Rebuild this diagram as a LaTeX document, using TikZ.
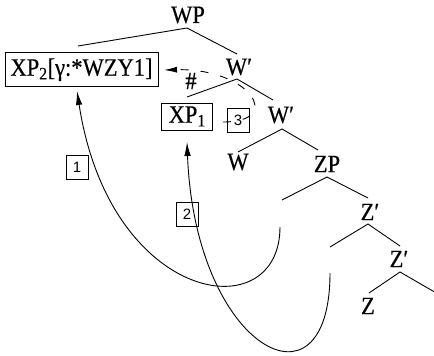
\documentclass[tikz,border=0pt]{standalone}
\usepackage{fontspec}
\setmainfont[FakeStretch=0.9, FakeBold=0.4]{Liberation Serif}
\newfontfamily\labelfont{Liberation Sans}
\usetikzlibrary{arrows.meta}

\begin{document}
\begin{tikzpicture}[x=1pt, y=-1pt,
  cat/.style={inner sep=0pt, font=\fontsize{25}{29}\selectfont},
  boxed/.style={draw, line width=0.7pt, inner sep=0pt, font=\fontsize{25}{29}\selectfont},
  numbox/.style={draw, line width=0.6pt, inner sep=0pt, minimum width=22pt,
    minimum height=24pt, font=\labelfont\fontsize{15}{18}\selectfont},
  branch/.style={line width=0.9pt},
  move/.style={line width=0.9pt, -{Latex[length=14pt,width=6.5pt]}},
  agree/.style={line width=0.9pt, dash pattern=on 8pt off 12pt,
    -{Latex[length=13pt,width=6pt]}},
]
\useasboundingbox (0,0) rectangle (434,356);

% category labels
\node[cat] (WP)  at (188,15)  {WP};
\node[boxed, minimum width=153pt, minimum height=34pt] (XP2) at (81.5,69.7)
  {XP\textsubscript{2}[γ:*WZY1]};
\node[cat] (Wb1) at (239,67)  {W′};
\node[boxed, minimum width=51pt, minimum height=27pt] (XP1) at (187.2,116.4)
  {XP\textsubscript{1}};
\node[cat] (Wb2) at (281,115) {W′};
\node[cat] (W)   at (238,162) {W};
\node[cat] (ZP)  at (327,164) {ZP};
\node[cat] (Zb1) at (370,212) {Z′};
\node[cat] (Zb2) at (399,259) {Z′};
\node[cat] (Z)   at (368,306) {Z};

% branching points and branch ends
\coordinate (WPa)   at (187,28);
\coordinate (XP2up) at (78,46);
\coordinate (Wb1up) at (237,54);
\coordinate (Wb1a)  at (237,79);
\coordinate (XP1up) at (187,97);
\coordinate (Wb2up) at (273,100);
\coordinate (Wb2a)  at (282,129);
\coordinate (Wup)   at (238,152);
\coordinate (ZPup)  at (318,150);
\coordinate (ZPa)   at (327,177);
\coordinate (tr1)   at (282,200);
\coordinate (Zb1up) at (368,198);
\coordinate (Zb1a)  at (368,224);
\coordinate (tr2)   at (330,247);
\coordinate (Zb2up) at (400,246);
\coordinate (Zb2a)  at (400,272);
\coordinate (Zup)   at (369,293);
\coordinate (Zb2r)  at (438,294);

% tree branches
\draw[branch] (XP2up) -- (WPa) -- (Wb1up);
\draw[branch] (XP1up) -- (Wb1a) -- (Wb2up);
\draw[branch] (Wup) -- (Wb2a) -- (ZPup);
\draw[branch] (tr1) -- (ZPa) -- (Zb1up);
\draw[branch] (tr2) -- (Zb1a) -- (Zb2up);
\draw[branch] (Zup) -- (Zb2a) -- (Zb2r);

% movement arrows
\coordinate (m1s) at (280,227);
\coordinate (m1e) at (77,91);
\coordinate (m2s) at (330,273);
\coordinate (m2e) at (187,142);
\draw[move] (m1s) .. controls (280,330) and (110,305) .. (m1e);
\draw[move] (m2s) .. controls (330,420) and (195,350) .. (m2e);

% blocked dependency
\coordinate (d0) at (223,122);
\coordinate (d1) at (164,70);
\draw[agree] (d0) .. controls (285,122) and (250,68) .. (d1);
\node[inner sep=0pt, font=\fontsize{25}{29}\selectfont] (hash) at (191,81) {\#};

% step numbers
\node[numbox] (n1) at (77,167)    {1};
\node[numbox] (n2) at (187,214.5) {2};
\node[numbox] (n3) at (238,120)   {3};
\end{tikzpicture}
\end{document}
